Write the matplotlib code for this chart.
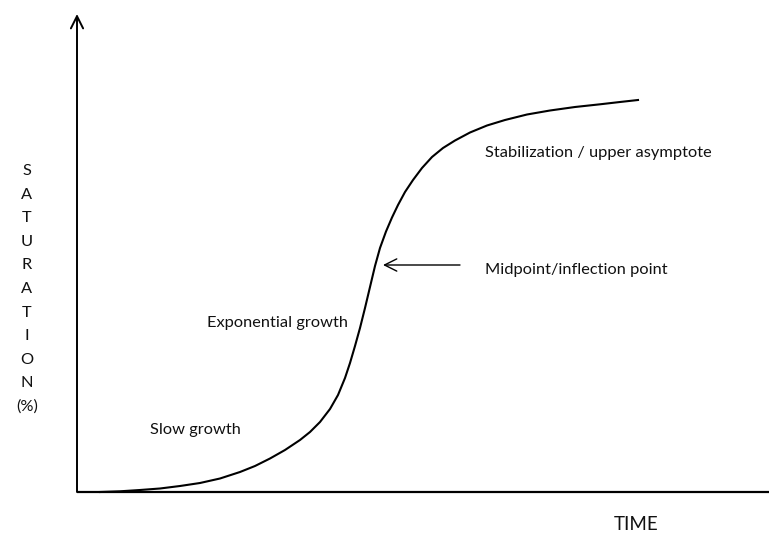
import matplotlib.pyplot as plt

plt.rcParams['font.family'] = ['Lato', 'DejaVu Sans']

# curve (time, saturation), origin at the axes corner
time = [23, 43, 63, 83, 103, 123, 143, 163, 178, 193, 208, 223, 233, 243,
        253, 261, 268, 273, 278, 283, 288, 293, 298, 303, 309, 315, 321,
        328, 336, 345, 355, 366, 378, 393, 410, 428, 450, 473, 498, 523,
        543, 561]
saturation = [0, 0.7, 2, 3.5, 6, 9, 13.5, 20, 26, 33.5, 42, 52, 60, 70, 83,
              97, 114, 129, 146, 164, 184, 205, 226, 244, 260.5, 274.5, 287,
              300, 312, 324, 335, 344, 351.5, 359.5, 366.5, 372, 377.5,
              381.5, 385, 387.7, 390, 392]

ylabel_letters = ['S', 'A', 'T', 'U', 'R', 'A', 'T', 'I', 'O', 'N', '(%)']

phase_labels = ['Slow growth', 'Exponential growth',
                'Midpoint/inflection point', 'Stabilization / upper asymptote']
phase_x = [73, 130, 408, 408]
phase_y = [62, 169, 222, 339]

inflection = (306, 227)

W, H = 769, 540
fig = plt.figure(figsize=(W / 100, H / 100), dpi=100)
ax = fig.add_axes([77 / W, 48 / H, 692 / W, 478 / H])
ax.set_xlim(0, 692)
ax.set_ylim(0, 478)
ax.axis('off')

# axes lines
ax.plot([0, 692], [0, 0], color='black', lw=1.6, clip_on=False, solid_capstyle='butt')
ax.annotate('', xy=(0, 478), xytext=(0, 0),
            arrowprops=dict(arrowstyle='->', color='black', lw=1.4,
                            mutation_scale=22, shrinkA=0, shrinkB=0),
            annotation_clip=False)

ax.plot(time, saturation, color='black', lw=1.5, clip_on=False,
        solid_joinstyle='round')

# arrow pointing at the inflection point
ax.annotate('', xy=inflection, xytext=(inflection[0] + 77, inflection[1]),
            arrowprops=dict(arrowstyle='->', color='black', lw=1.0,
                            mutation_scale=22, shrinkA=0, shrinkB=0))

fs = 11.8
for lab, x, y in zip(phase_labels, phase_x, phase_y):
    ax.text(x, y, lab, fontsize=fs, ha='left', va='center', color='#111111')

ax.text(559, -33, 'TIME', fontsize=13.5, ha='center', va='center',
        color='#111111', clip_on=False)

for i, letter in enumerate(ylabel_letters):
    ax.text(-50, 321 - 23.6 * i, letter, fontsize=fs, ha='center',
            va='center', color='#111111', clip_on=False)

fig.savefig('out.png', dpi=100)
